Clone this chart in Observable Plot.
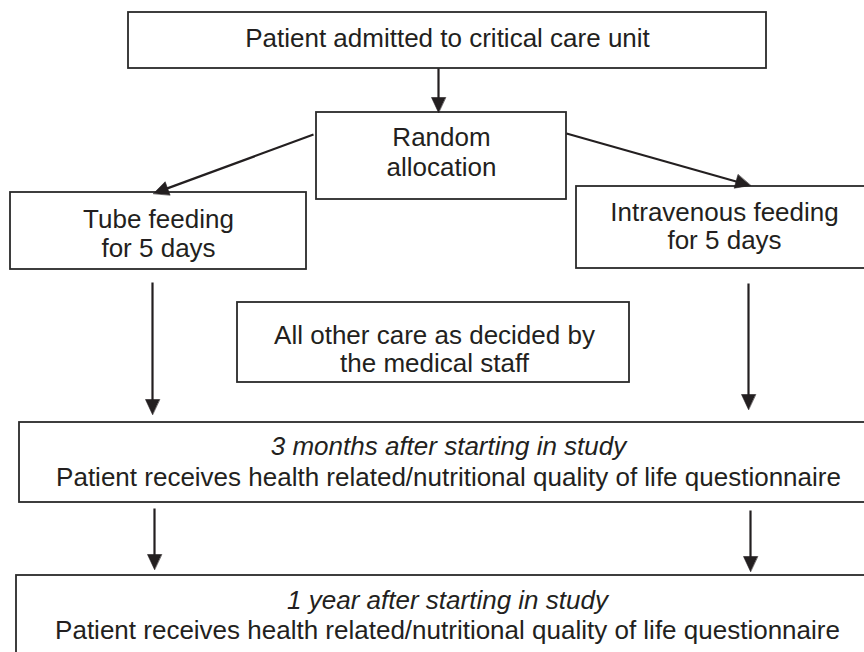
<!DOCTYPE html>
<html>
<head>
<meta charset="utf-8">
<script src="https://cdn.jsdelivr.net/npm/d3@7"></script>
<script src="https://cdn.jsdelivr.net/npm/@observablehq/plot@0.6"></script>
<style>
  html, body { margin: 0; padding: 0; background: #ffffff; overflow: hidden; }
  #chart { width: 864px; height: 652px; overflow: hidden; }
</style>
</head>
<body>
<div id="chart"></div>
<script>
// ---------- content ----------
const nodes = ["admit", "random", "tube", "iv", "care", "month3", "year1"];
const nodeLines = [
  ["Patient admitted to critical care unit"],
  ["Random", "allocation"],
  ["Tube feeding", "for 5 days"],
  ["Intravenous feeding", "for 5 days"],
  ["All other care as decided by", "the medical staff"],
  ["3 months after starting in study", "Patient receives health related/nutritional quality of life questionnaire"],
  ["1 year after starting in study", "Patient receives health related/nutritional quality of life questionnaire"]
];
const italicFirstLine = [false, false, false, false, false, true, true];
const edgeFrom = ["admit", "random", "random", "tube", "iv", "month3", "month3"];
const edgeTo   = ["random", "tube", "iv", "month3", "month3", "year1", "year1"];

// ---------- layout (diagram coordinate space, y downward) ----------
const boxX1 = [128, 316, 10, 576, 237, 19, 16];
const boxX2 = [766, 566, 306, 880, 629, 880, 880];
const boxY1 = [12, 112, 192, 186, 302, 422, 575];
const boxY2 = [68, 199, 269, 268, 382, 502, 680];
const textCx = [447, 441, 158, 724, 434, 448, 447];
const textBaselines = [[46], [145, 175], [227, 256], [220, 248], [343, 371], [454, 485], [608, 638]];
const arrowX1 = [438, 313, 566, 152, 748, 154, 750];
const arrowY1 = [68, 134, 133, 282, 283, 508, 510];
const arrowX2 = [438, 153, 750, 152, 748, 154, 750];
const arrowY2 = [112, 193, 185, 414, 409, 569, 571];
const headLength = 15;
const headWidth = 14;

// ---------- build tables ----------
const boxes = nodes.map((id, i) => ({id, x1: boxX1[i], x2: boxX2[i], y1: boxY1[i], y2: boxY2[i]}));

const lines = [];
nodes.forEach((id, i) => {
  nodeLines[i].forEach((t, j) => {
    lines.push({id, text: t, x: textCx[i], y: textBaselines[i][j], italic: italicFirstLine[i] && j === 0});
  });
});

const arrows = edgeFrom.map((f, i) => {
  const dx = arrowX2[i] - arrowX1[i], dy = arrowY2[i] - arrowY1[i];
  const len = Math.hypot(dx, dy);
  const ux = dx / len, uy = dy / len;
  const bx = arrowX2[i] - ux * (headLength - 1), by = arrowY2[i] - uy * (headLength - 1);
  return {id: f + "-" + edgeTo[i] + "-" + i, x1: arrowX1[i], y1: arrowY1[i], x2: arrowX2[i], y2: arrowY2[i], bx, by, ux, uy};
});

const heads = arrows.flatMap(a => {
  const nx = -a.uy, ny = a.ux, w = headWidth / 2;
  const hx = a.x2 - a.ux * headLength, hy = a.y2 - a.uy * headLength;
  return [
    {id: a.id, x: a.x2, y: a.y2},
    {id: a.id, x: hx + nx * w, y: hy + ny * w},
    {id: a.id, x: hx - nx * w, y: hy - ny * w}
  ];
});

const ink = "#231f20";
const font = "'Liberation Sans', Arial, Helvetica, sans-serif";

const plot = Plot.plot({
  width: 864,
  height: 652,
  margin: 0,
  x: {domain: [0, 864], range: [0, 864], axis: null},
  y: {domain: [0, 652], range: [0, 652], axis: null},
  style: {fontFamily: font, background: "#ffffff", color: ink},
  marks: [
    Plot.rect(boxes, {x1: "x1", x2: "x2", y1: "y1", y2: "y2", fill: "#ffffff", stroke: "#2a2a2a", strokeWidth: 1.8, clip: true}),
    Plot.link(arrows, {x1: "x1", y1: "y1", x2: "bx", y2: "by", stroke: ink, strokeWidth: 2.2}),
    Plot.line(heads, {x: "x", y: "y", z: "id", fill: ink, stroke: ink, strokeWidth: 0.6, curve: "linear-closed"}),
    Plot.text(lines.filter(d => !d.italic), {x: "x", y: "y", text: "text", fontSize: 26, fontFamily: font, lineAnchor: "bottom", fill: ink}),
    Plot.text(lines.filter(d => d.italic), {x: "x", y: "y", text: "text", fontSize: 26, fontFamily: font, fontStyle: "italic", lineAnchor: "bottom", fill: ink})
  ]
});

document.getElementById("chart").appendChild(plot);
</script>
</body>
</html>
